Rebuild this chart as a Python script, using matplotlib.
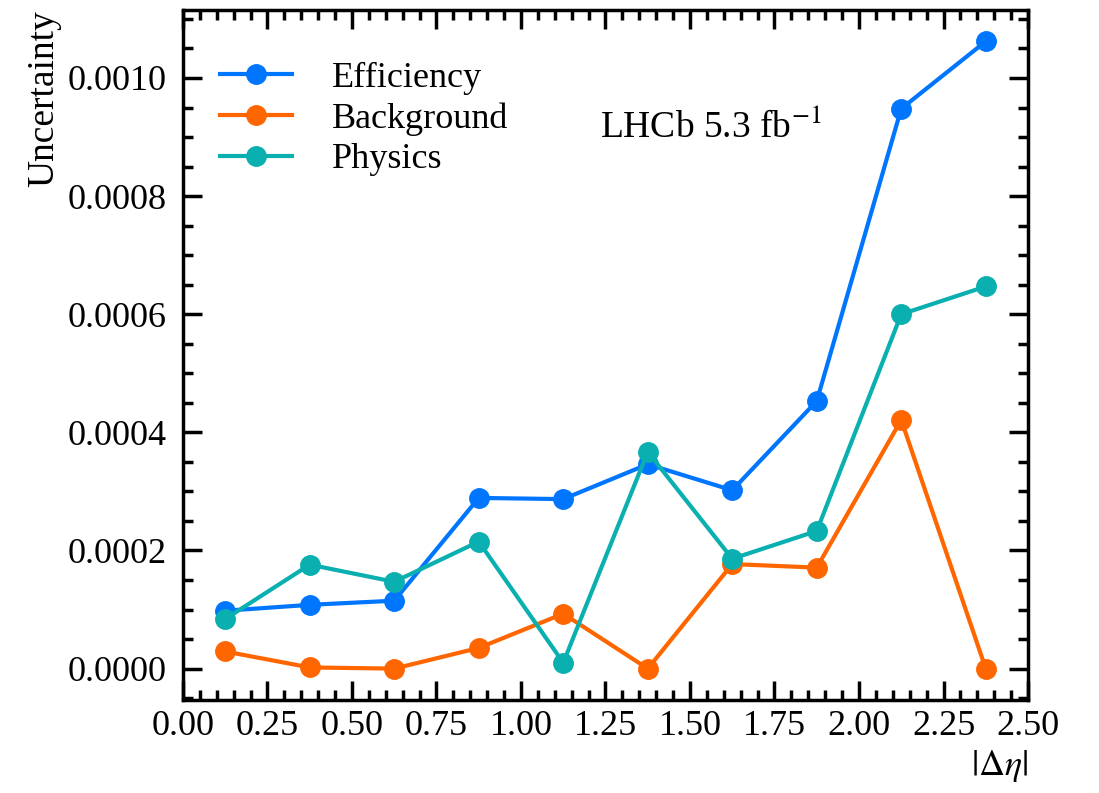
import matplotlib
matplotlib.use("Agg")
import matplotlib.pyplot as plt
from matplotlib.ticker import MultipleLocator, AutoMinorLocator

# ----------------- Data -----------------
deta = [0.125, 0.375, 0.625, 0.875, 1.125, 1.375, 1.625, 1.875, 2.125, 2.375]
efficiency = [0.000098, 0.000108, 0.000115, 0.000289, 0.000287,
              0.000346, 0.000302, 0.000453, 0.000948, 0.001062]
background = [0.000029, 0.000002, 0.000000, 0.000035, 0.000093,
              0.000000, 0.000177, 0.000171, 0.000421, 0.000000]
physics = [0.000084, 0.000176, 0.000147, 0.000215, 0.000010,
           0.000367, 0.000186, 0.000233, 0.000600, 0.000647]

# ----------------- Style -----------------
plt.rcParams["font.family"] = ["Liberation Serif", "DejaVu Serif"]
plt.rcParams["mathtext.fontset"] = "stix"
plt.rcParams["font.size"] = 26

fig = plt.figure(figsize=(10.99, 7.93), dpi=100)
ax = fig.add_axes([0.1665, 0.1173, 0.7689, 0.8701])

style = dict(marker="o", markersize=14, linewidth=3)
ax.plot(deta, efficiency, color="#0076FF", label="Efficiency", **style)
ax.plot(deta, background, color="#FF6600", label="Background", **style)
ax.plot(deta, physics, color="#0AAFB0", label="Physics", **style)

ax.set_xlim(0, 2.5)
ax.xaxis.set_major_locator(MultipleLocator(0.25))
ax.xaxis.set_minor_locator(AutoMinorLocator(5))
ax.yaxis.set_major_locator(MultipleLocator(0.0002))
ax.yaxis.set_minor_locator(AutoMinorLocator(4))
ax.yaxis.set_major_formatter(plt.FormatStrFormatter("%.4f"))

ax.tick_params(which="both", direction="in", top=True, right=True,
               width=2.5, labelsize=26)
ax.tick_params(which="major", length=14)
ax.tick_params(which="minor", length=7)
ax.tick_params(axis="y", which="major", pad=12)
ax.tick_params(axis="x", which="major", pad=7)
for sp in ax.spines.values():
    sp.set_linewidth(2.5)

ax.set_xlabel(r"$|\Delta\eta|$", loc="right", fontsize=26)
ax.set_ylabel("Uncertainty", loc="top", fontsize=27)

ax.text(0.493, 0.83, r"LHCb 5.3 fb$^{-1}$", transform=ax.transAxes,
        ha="left", va="center", fontsize=27)

ax.legend(loc="upper left", frameon=False, fontsize=26,
          handlelength=2.0, handletextpad=1.1, borderaxespad=0.0,
          borderpad=0.0, labelspacing=0.2,
          bbox_to_anchor=(0.044, 0.925))

fig.savefig("out.png", dpi=100)
